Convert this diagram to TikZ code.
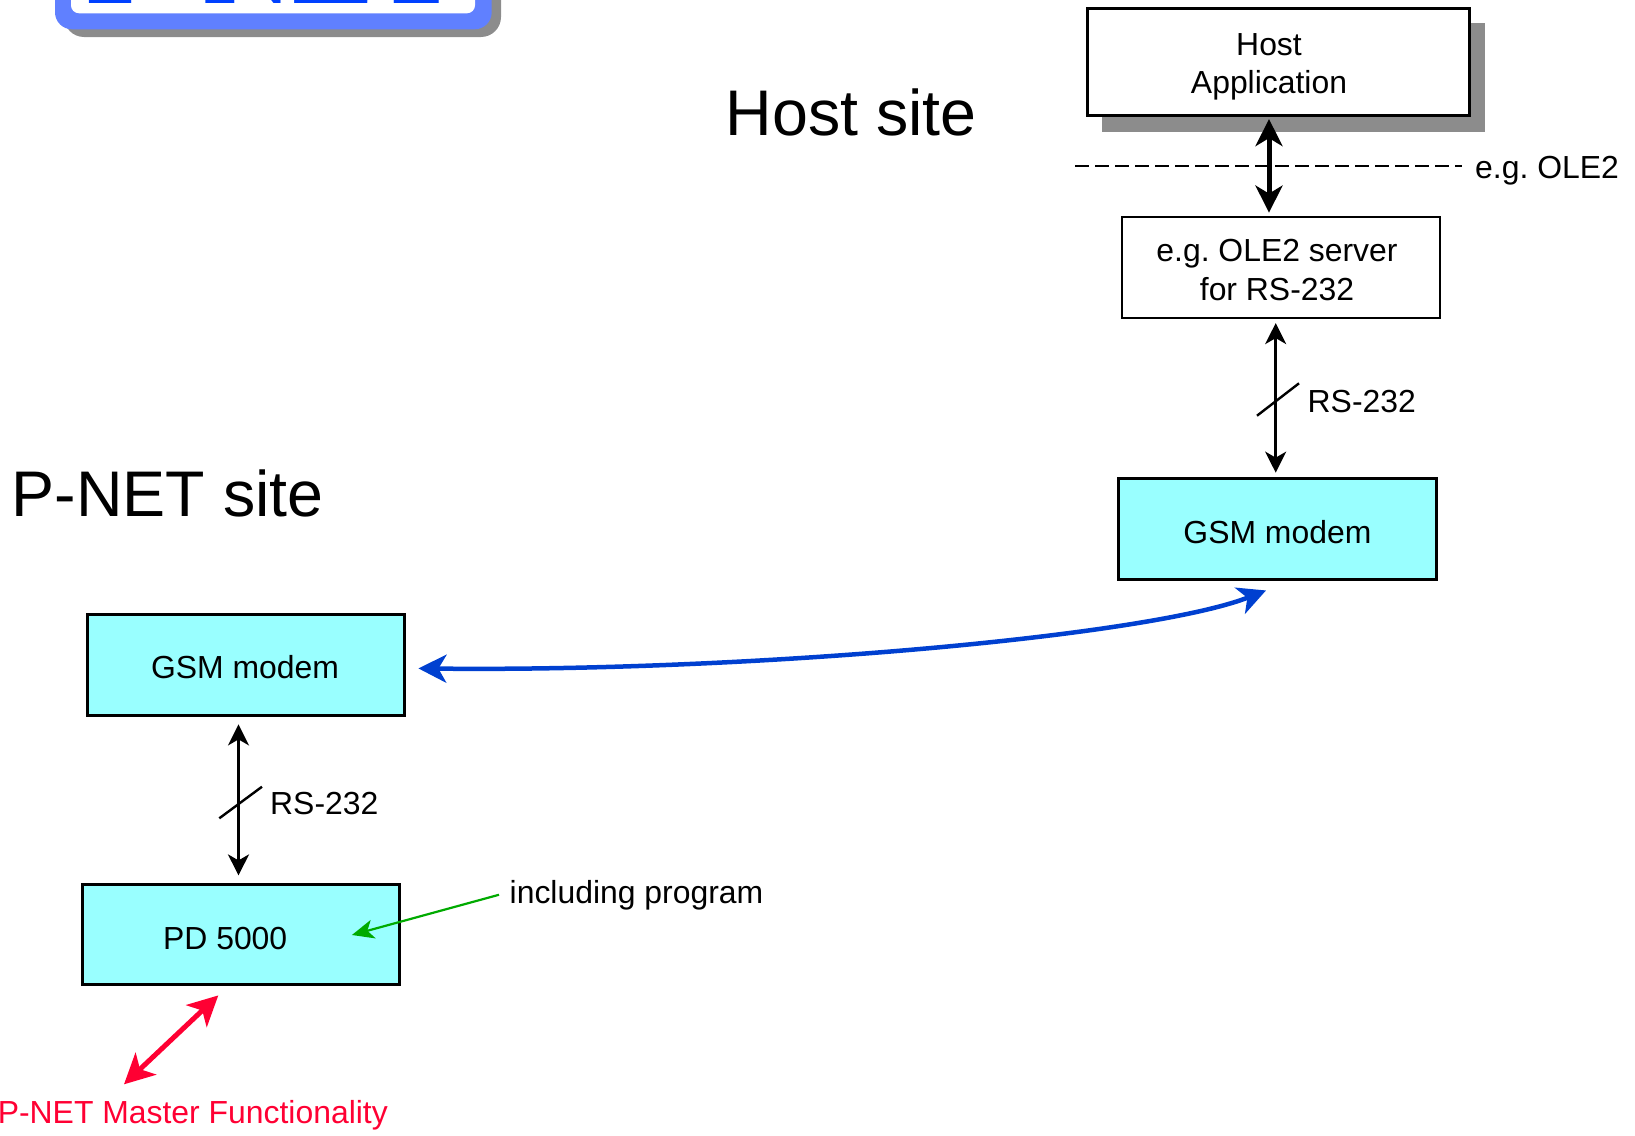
\documentclass[tikz,border=0pt]{standalone}
\usepackage{fontspec}
\setmainfont{Liberation Sans}
\newfontfamily\logofont{Liberation Serif}
\usetikzlibrary{arrows.meta,calc}
\definecolor{boxcyan}{HTML}{99FFFF}
\definecolor{linkblue}{HTML}{0040D0}
\definecolor{pnred}{HTML}{FF0033}
\definecolor{pngreen}{HTML}{00AA00}
\definecolor{logoblue}{HTML}{6080FF}
\definecolor{letterblue}{HTML}{0040FF}
\definecolor{shadowgrey}{HTML}{8C8C8C}
\frenchspacing
\begin{document}
\begin{tikzpicture}[x=1pt,y=-1pt,
  txt/.style={font=\fontsize{31.9}{38}\selectfont, inner sep=0pt, anchor=base},
  lbl/.style={font=\fontsize{31.9}{38}\selectfont, inner sep=0pt, anchor=base west},
  big/.style={font=\fontsize{64.5}{70}\selectfont, inner sep=0pt, anchor=base west},
  boxbase/.style={draw=black, line width=2.8pt, rectangle, inner sep=0pt},
  whitebox/.style={boxbase, fill=white},
  cyanbox/.style={boxbase, fill=boxcyan},
  thinarr/.style={line width=2.6pt, {Stealth[length=21pt,width=21pt,inset=6pt]}-{Stealth[length=21pt,width=21pt,inset=6pt]}},
  thickarr/.style={line width=5pt, {Stealth[length=27pt,width=27pt,inset=8pt]}-{Stealth[length=27pt,width=27pt,inset=8pt]}},
  bluearr/.style={draw=linkblue, line width=4.5pt, {Stealth[length=28pt,width=28pt,inset=8pt]}-{Stealth[length=28pt,width=28pt,inset=8pt]}},
  redarr/.style={draw=pnred, line width=5pt, {Stealth[length=30pt,width=30pt,inset=8pt]}-{Stealth[length=30pt,width=30pt,inset=8pt]}},
  greenarr/.style={draw=pngreen, line width=2.2pt, -{Stealth[length=22pt,width=19pt,inset=6pt]}},
  slashline/.style={line width=2.4pt},
]
\useasboundingbox (0,0) rectangle (1635,1135);

% logo (cut by top edge)
\fill[shadowgrey, rounded corners=20pt] (64,-200) rectangle (501,37);
\fill[logoblue, rounded corners=17pt] (55,-200) rectangle (491.7,29.3);
\fill[white, rounded corners=8pt] (71,-200) rectangle (475,13.3);
\node[font=\logofont\bfseries\fontsize{124}{130}\selectfont, text=letterblue, inner sep=0pt, anchor=base west] (logo) at (86,3.3) {P-NET};

% host side
\fill[shadowgrey] (1102,23) rectangle (1485,132);
\node[whitebox, minimum width=381.7pt, minimum height=107.4pt] (host) at (1278.4,62) {};
\node[txt] (hostt1) at (1269,55) {Host};
\node[txt] (hostt2) at (1269,93.3) {Application};

\node[big] (hostsite) at (725.5,135.5) {Host site};

\draw[line width=2.4pt, dash pattern=on 13.5pt off 6.5pt] (1075,165.8) -- (1462,165.8);
\node[lbl] (ole2) at (1475,178.3) {e.g. OLE2};

\node[whitebox, minimum width=318pt, minimum height=101pt] (ole) at (1281,267.5) {};
\node[txt] (olet1) at (1277,261.7) {e.g. OLE2 server};
\node[txt] (olet2) at (1277,300) {for RS-232};

\path (hostt1 |- host.south) ++(0,2) coordinate (ha);
\path (hostt1 |- ole.north) ++(0,-3) coordinate (hb);
\draw[thickarr] (ha) -- (hb);

\node[cyanbox, minimum width=318pt, minimum height=101.1pt] (gsmR) at (1277.8,529.2) {};
\node[txt] (gsmRt) at (1277.4,543) {GSM modem};

\draw[thinarr] ($(ole.south)+(-5.3,3.7)$) -- ($(gsmR.north)+(-2.1,-4.6)$);
\draw[slashline] (1257,415.7) -- (1299,383.3);
\node[lbl] (rsR) at (1307.5,412.5) {RS-232};

% P-NET side
\node[big] (pnetsite) at (11.5,516) {P-NET site};

\node[cyanbox, minimum width=317pt, minimum height=101pt] (gsmL) at (246.1,664.8) {};
\node[txt] (gsmLt) at (245,678.5) {GSM modem};

\node[cyanbox, minimum width=317pt, minimum height=100pt] (pd) at (240.9,934.3) {};
\node[txt] (pdt) at (225.2,949) {PD 5000};

\draw[thinarr] ($(gsmL.south)+(-7.6,7.7)$) -- ($(pd.north)+(-2.4,-7.5)$);
\draw[slashline] (219.3,818.3) -- (262,786.7);
\node[lbl] (rsL) at (270,814.5) {RS-232};

% GSM link
\draw[bluearr] ($(gsmL.east)+(12.4,3.6)$) .. controls (750,672) and (1150,636) .. ($(gsmR.south)+(-11.8,9.3)$);

% including program
\node[lbl] (incl) at (509.5,903) {including program};
\draw[greenarr] ($(incl.west)+(-10.5,0)$) -- ($(pd.center)+(111,0.7)$);

% master functionality
\node[lbl, text=pnred] (master) at (-2.4,1123) {P-NET Master Functionality};
\coordinate (redend) at (124,1084.3);
\draw[redarr] ($(pd.south)+(-22.6,9.7)$) -- (redend);
\end{tikzpicture}
\end{document}
